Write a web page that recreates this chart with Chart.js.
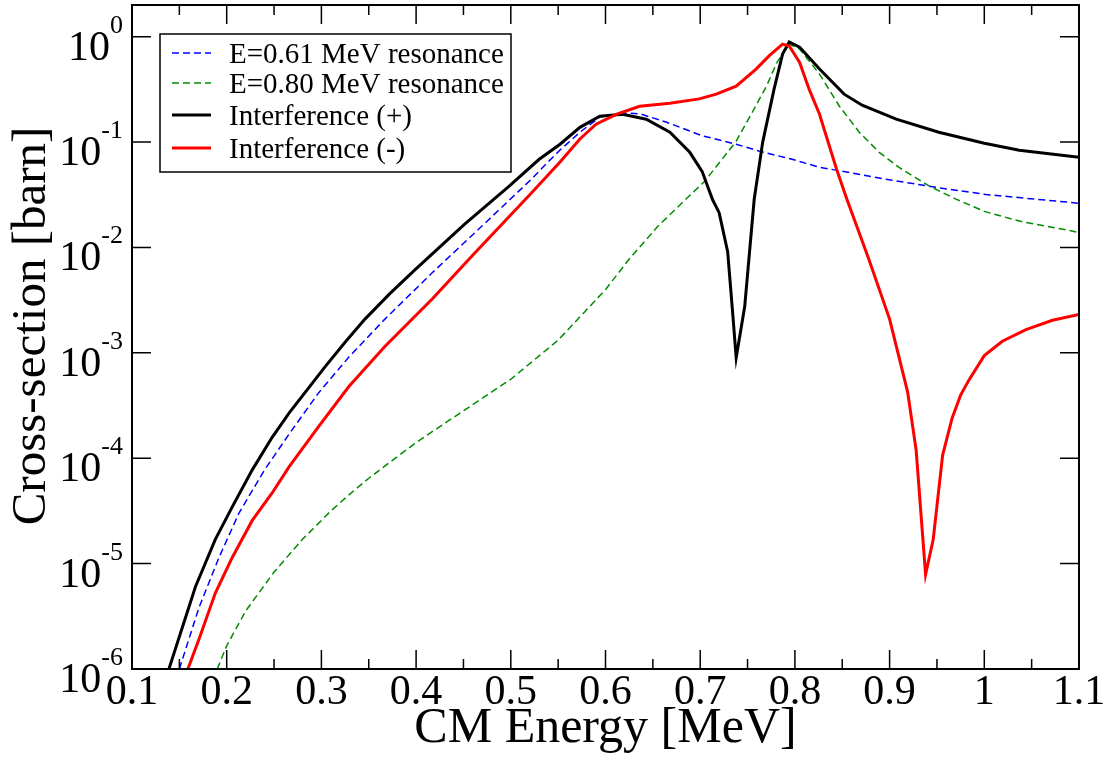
<!DOCTYPE html>
<html>
<head>
<meta charset="utf-8">
<title>Cross-section vs CM energy</title>
<script src="https://cdn.jsdelivr.net/npm/chart.js@4.4.1/dist/chart.umd.min.js"></script>
<style>
    html, body { margin: 0; padding: 0; background: #fff; }
    canvas { display: block; }
</style>
</head>
<body>
<canvas id="xsChart" width="1116" height="762"></canvas>
<script>
// tick values and labels
const xTickValues = [0.1, 0.2, 0.3, 0.4, 0.5, 0.6, 0.7, 0.8, 0.9, 1.0, 1.1];
const xTickLabels = ['0.1', '0.2', '0.3', '0.4', '0.5', '0.6', '0.7', '0.8', '0.9', '1', '1.1'];
const xMinorTicks = [0.15, 0.25, 0.35, 0.45, 0.55, 0.65, 0.75, 0.85, 0.95, 1.05];
const yTickValues = [1e-6, 1e-5, 1e-4, 1e-3, 1e-2, 1e-1, 1];
const yTickExponents = ['-6', '-5', '-4', '-3', '-2', '-1', '0'];

// E=0.61 MeV resonance (barn)
const res061Energy = [0.150, 0.171, 0.192, 0.213, 0.240, 0.269, 0.297, 0.329, 0.367, 0.417,
    0.469, 0.522, 0.537, 0.552, 0.573, 0.594, 0.622, 0.636, 0.664, 0.702,
    0.738, 0.762, 0.797, 0.826, 0.896, 0.949, 1.002, 1.100];
const res061XS = [1.0e-6, 3.89e-6, 1.15e-5, 3.02e-5, 7.76e-5, 1.86e-4, 4.17e-4, 9.12e-4, 2.09e-3, 5.75e-3,
    1.58e-2, 4.47e-2, 6.17e-2, 8.41e-2, 0.124, 0.173, 0.188, 0.186, 0.155, 0.115,
    9.55e-2, 8.22e-2, 6.87e-2, 5.78e-2, 4.44e-2, 3.72e-2, 3.18e-2, 2.63e-2];

// E=0.80 MeV resonance (barn)
const res080Energy = [0.190, 0.200, 0.220, 0.250, 0.280, 0.310, 0.330, 0.350, 0.400, 0.450,
    0.500, 0.550, 0.600, 0.625, 0.655, 0.685, 0.705, 0.723, 0.738, 0.755,
    0.770, 0.781, 0.794, 0.805, 0.826, 0.847, 0.868, 0.889, 0.910, 0.942,
    0.970, 1.000, 1.037, 1.100];
const res080XS = [1.0e-6, 1.66e-6, 3.55e-6, 8.32e-6, 1.70e-5, 3.16e-5, 4.57e-5, 6.46e-5, 1.41e-4, 2.82e-4,
    5.62e-4, 1.32e-3, 3.98e-3, 7.76e-3, 1.58e-2, 2.88e-2, 4.27e-2, 6.87e-2, 0.102, 0.192,
    0.339, 0.569, 0.851, 0.764, 0.442, 0.219, 0.124, 8.0e-2, 5.75e-2, 3.82e-2,
    2.88e-2, 2.20e-2, 1.78e-2, 1.39e-2];

// Interference (+)
const plusEnergy = [0.139, 0.167, 0.188, 0.206, 0.227, 0.248, 0.266, 0.304, 0.325, 0.346,
    0.372, 0.399, 0.451, 0.498, 0.530, 0.552, 0.573, 0.594, 0.618, 0.643,
    0.668, 0.689, 0.702, 0.713, 0.720, 0.729, 0.734, 0.738, 0.747, 0.752,
    0.757, 0.766, 0.778, 0.787, 0.794, 0.805, 0.826, 0.852, 0.871, 0.907,
    0.952, 1.000, 1.037, 1.100];
const plusXS = [1.0e-6, 6.03e-6, 1.70e-5, 3.47e-5, 7.76e-5, 1.58e-4, 2.69e-4, 7.41e-4, 1.26e-3, 2.09e-3,
    3.63e-3, 6.17e-3, 1.66e-2, 3.80e-2, 6.87e-2, 9.55e-2, 0.138, 0.176, 0.184, 0.165,
    0.124, 8.0e-2, 5.28e-2, 2.85e-2, 2.14e-2, 9.12e-3, 2.57e-3, 9.0e-4, 2.75e-3, 8.91e-3,
    2.85e-2, 0.100, 0.318, 0.684, 0.891, 0.794, 0.493, 0.285, 0.224, 0.165,
    0.124, 9.77e-2, 8.38e-2, 7.18e-2];

// Interference (-)
const minusEnergy = [0.159, 0.171, 0.188, 0.206, 0.227, 0.248, 0.266, 0.297, 0.329, 0.367,
    0.417, 0.459, 0.522, 0.552, 0.573, 0.590, 0.612, 0.636, 0.668, 0.699,
    0.717, 0.738, 0.759, 0.773, 0.787, 0.794, 0.805, 0.815, 0.826, 0.844,
    0.855, 0.878, 0.900, 0.919, 0.928, 0.938, 0.946, 0.956, 0.966, 0.975,
    0.984, 1.000, 1.019, 1.044, 1.072, 1.100];
const minusXS = [1.0e-6, 1.95e-6, 5.25e-6, 1.15e-5, 2.57e-5, 4.68e-5, 8.32e-5, 2.0e-4, 4.79e-4, 1.15e-3,
    3.24e-3, 8.32e-3, 3.31e-2, 6.46e-2, 0.107, 0.148, 0.184, 0.219, 0.234, 0.257,
    0.285, 0.339, 0.493, 0.661, 0.851, 0.817, 0.569, 0.318, 0.184, 5.52e-2,
    2.85e-2, 7.76e-3, 2.09e-3, 4.27e-4, 1.20e-4, 7.9e-6, 1.68e-5, 1.07e-4, 2.40e-4, 3.98e-4,
    5.57e-4, 9.42e-4, 1.29e-3, 1.66e-3, 2.04e-3, 2.31e-3];

const FONT = 'Liberation Serif';

function toPoints(energy, xs) {
    return energy.map((e, i) => ({ x: e, y: xs[i] }));
}

// frame, inward ticks, y labels with exponents, legend box
const graceFrame = {
    id: 'graceFrame',
    afterDraw(chart) {
        const { ctx, chartArea: a, scales: { x, y } } = chart;
        ctx.save();

        ctx.strokeStyle = '#000';
        ctx.lineWidth = 1.5;
        ctx.beginPath();
        xTickValues.forEach(v => {
            const px = x.getPixelForValue(v);
            ctx.moveTo(px, a.bottom); ctx.lineTo(px, a.bottom - 19);
            ctx.moveTo(px, a.top); ctx.lineTo(px, a.top + 19);
        });
        xMinorTicks.forEach(v => {
            const px = x.getPixelForValue(v);
            ctx.moveTo(px, a.bottom); ctx.lineTo(px, a.bottom - 10);
            ctx.moveTo(px, a.top); ctx.lineTo(px, a.top + 10);
        });
        yTickValues.forEach(v => {
            const py = y.getPixelForValue(v);
            ctx.moveTo(a.left, py); ctx.lineTo(a.left + 19, py);
            ctx.moveTo(a.right, py); ctx.lineTo(a.right - 19, py);
        });
        ctx.stroke();

        ctx.lineWidth = 2;
        ctx.strokeRect(a.left, a.top, a.right - a.left, a.bottom - a.top);

        // y tick labels: 10 with superscript exponent
        ctx.fillStyle = '#000';
        ctx.textBaseline = 'alphabetic';
        ctx.textAlign = 'right';
        yTickValues.forEach((v, i) => {
            const py = y.getPixelForValue(v);
            const right = a.left - 9;
            ctx.font = `26px "${FONT}"`;
            const supW = ctx.measureText(yTickExponents[i]).width;
            ctx.fillText(yTickExponents[i], right, py - 4);
            ctx.font = `42px "${FONT}"`;
            ctx.fillText('10', right - supW, py + 23);
        });

        // y axis title
        ctx.save();
        ctx.translate(45, (a.top + a.bottom) / 2 - 11);
        ctx.rotate(-Math.PI / 2);
        ctx.textAlign = 'center';
        ctx.font = `49px "${FONT}"`;
        ctx.fillText('Cross-section [barn]', 0, 0);
        ctx.restore();

        // legend
        const box = { left: 160, top: 34, right: 511, bottom: 172 };
        const rowBase = [63, 93, 125, 158];
        ctx.fillStyle = '#fff';
        ctx.fillRect(box.left, box.top, box.right - box.left, box.bottom - box.top);
        ctx.lineWidth = 1.5;
        ctx.strokeStyle = '#000';
        ctx.strokeRect(box.left, box.top, box.right - box.left, box.bottom - box.top);
        ctx.textAlign = 'left';
        ctx.font = `29px "${FONT}"`;
        chart.data.datasets.forEach((ds, i) => {
            const ly = rowBase[i] - 10;
            ctx.beginPath();
            ctx.setLineDash(ds.borderDash || []);
            ctx.strokeStyle = ds.borderColor;
            ctx.lineWidth = ds.borderWidth;
            ctx.moveTo(172, ly);
            ctx.lineTo(211, ly);
            ctx.stroke();
            ctx.setLineDash([]);
            ctx.fillStyle = '#000';
            ctx.fillText(ds.label, 229, rowBase[i]);
        });

        ctx.restore();
    }
};

const chartCtx = document.getElementById('xsChart').getContext('2d');
new Chart(chartCtx, {
    type: 'line',
    data: {
        datasets: [
            {
                label: 'E=0.61 MeV resonance',
                data: toPoints(res061Energy, res061XS),
                borderColor: '#0000ff',
                borderWidth: 1.5,
                borderDash: [7, 4],
                order: 4
            },
            {
                label: 'E=0.80 MeV resonance',
                data: toPoints(res080Energy, res080XS),
                borderColor: '#008b00',
                borderWidth: 1.5,
                borderDash: [7, 4],
                order: 3
            },
            {
                label: 'Interference (+)',
                data: toPoints(plusEnergy, plusXS),
                borderColor: '#000000',
                borderWidth: 3,
                order: 2
            },
            {
                label: 'Interference (-)',
                data: toPoints(minusEnergy, minusXS),
                borderColor: '#ff0000',
                borderWidth: 3,
                order: 1
            }
        ]
    },
    options: {
        responsive: false,
        animation: false,
        devicePixelRatio: 1,
        layout: { padding: { top: 5, right: 37, left: 0, bottom: 0 } },
        elements: {
            point: { radius: 0, hoverRadius: 0 },
            line: { tension: 0, fill: false }
        },
        plugins: {
            legend: { display: false },
            tooltip: { enabled: false }
        },
        scales: {
            x: {
                type: 'linear',
                min: 0.1,
                max: 1.1,
                grid: { display: false, drawTicks: false },
                border: { display: false },
                afterBuildTicks: scale => { scale.ticks = xTickValues.map(v => ({ value: v })); },
                afterFit: scale => { scale.height = 93; },
                ticks: {
                    autoSkip: false,
                    maxRotation: 0,
                    padding: 3,
                    color: '#000',
                    font: { family: FONT, size: 42, lineHeight: 1 },
                    callback: (value, index) => xTickLabels[index]
                },
                title: {
                    display: true,
                    text: 'CM Energy [MeV]',
                    color: '#000',
                    font: { family: FONT, size: 50, lineHeight: 1 },
                    padding: { top: 0, bottom: 8 }
                }
            },
            y: {
                type: 'logarithmic',
                min: 1e-6,
                max: 2,
                grid: { display: false, drawTicks: false },
                border: { display: false },
                afterBuildTicks: scale => { scale.ticks = yTickValues.map(v => ({ value: v })); },
                afterFit: scale => { scale.width = 132; },
                ticks: { display: false }
            }
        }
    },
    plugins: [graceFrame]
});
</script>
</body>
</html>
